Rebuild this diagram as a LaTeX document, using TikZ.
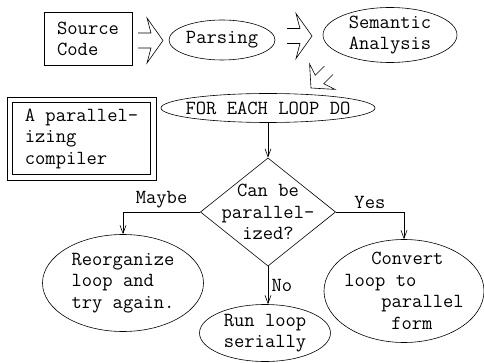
\documentclass[tikz,border=0pt]{standalone}
\usepackage{fontspec}
\usetikzlibrary{shapes.geometric,arrows.meta}

% open block arrow, tip at #2, pointing at angle #3
\newcommand{\fatarrow}[3][]{%
  \draw[shift={#2},rotate=#3,#1] (-25,-7.5) -- (-12,-7.5) -- (-16,-22.5) -- (0,0)
    -- (-16,22.5) -- (-12,7.5) -- (-25,7.5);}

\begin{document}
\begin{tikzpicture}[x=1pt,y=-1pt,line width=0.6pt,
    every node/.style={font=\ttfamily\fontsize{20}{21.5}\selectfont},
    >={Straight Barb[length=8pt,width=6pt]},
    box/.style={draw,rectangle,align=left,inner sep=0pt},
    oval/.style={draw,ellipse,align=left,inner sep=0pt}]
  \useasboundingbox (0,0) rectangle (484,363);

  \node[box,minimum width=88,minimum height=53] (src) at (88,39) {Source\\Code};
  \node[oval,minimum width=106,minimum height=40] (parse) at (222,40) {Parsing};
  \node[oval,align=center,minimum width=134,minimum height=55] (sem) at (390,35) {Semantic\\Analysis};
  \node[oval,inner xsep=-8.5pt,inner ysep=1pt,minimum width=214,minimum height=29] (forall) at (268,108) {FOR EACH LOOP DO};
  \node[box,minimum width=149,minimum height=83] (compiler) at (81.5,138.5) {A parallel-\\izing\\compiler};
  \draw ([shift={(6,6)}]compiler.north west) rectangle ([shift={(-6,-6)}]compiler.south east);
  \node[draw,diamond,aspect=1.25,inner sep=-6pt,align=center] (test) at (268,212) {Can be\\parallel-\\ized?};
  \node[oval,minimum width=161,minimum height=97] (reorg) at (123,283) {Reorganize\\loop and\\try again.};
  \node[oval,align=center,minimum width=131,minimum height=57] (serial) at (265,333) {Run loop\\serially};
  \node[oval,inner sep=-4pt,minimum width=160,minimum height=103] (convert) at (404,291)
    {\hspace*{27pt}Convert\\loop to\\\hspace*{37pt}parallel\\\hspace*{47pt}form};

  \fatarrow{(163,40.5)}{0}
  \fatarrow{(312,36)}{0}
  \fatarrow[yscale=0.8]{(311,88)}{225}

  \draw[->] (forall) -- (test);
  \draw[->] (test.west) -| node[pos=0.25,above] {Maybe} (reorg.north);
  \draw[->] (test.east) -| node[pos=0.25,above] {Yes} (convert.north);
  \draw[->] (test.south) -- node[right] {No} (test.south |- serial.north);
\end{tikzpicture}
\end{document}
